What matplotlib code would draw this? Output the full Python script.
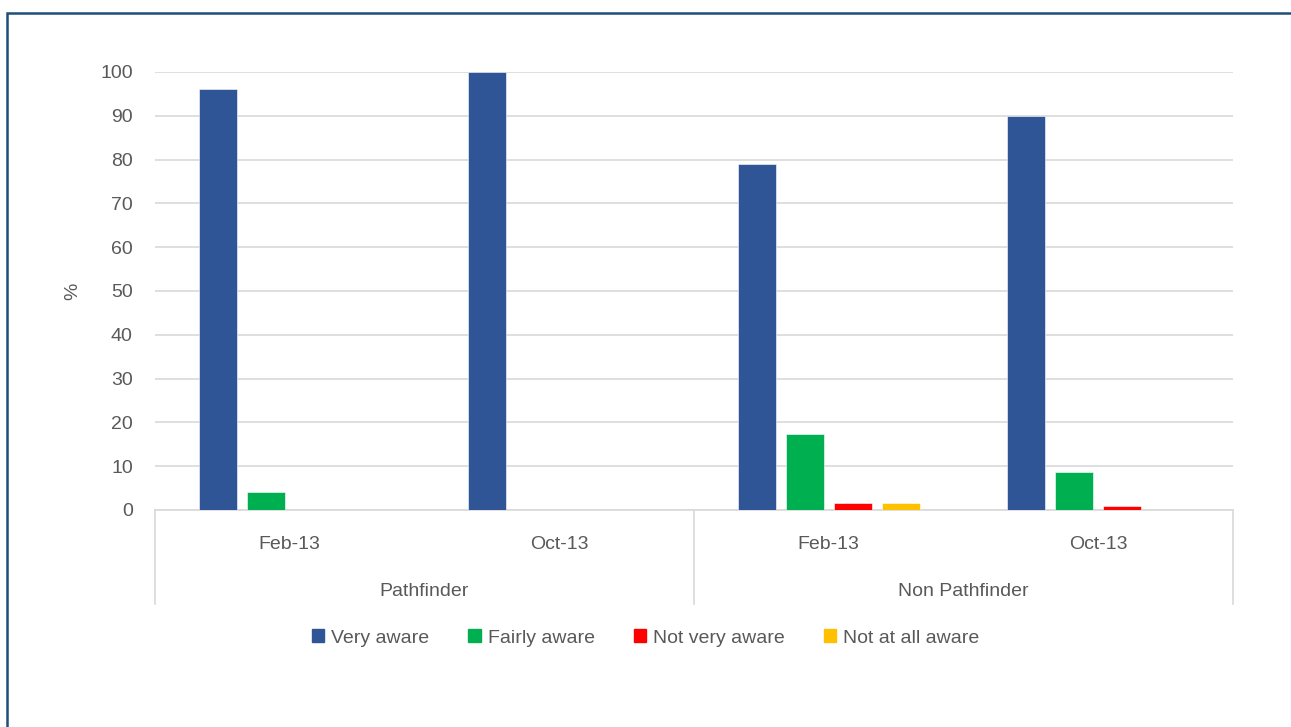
import numpy as np
import matplotlib.pyplot as plt
from matplotlib.patches import Rectangle, Patch
from matplotlib.lines import Line2D

plt.rcParams['font.family'] = ['Liberation Sans', 'DejaVu Sans']

## datos
grupos = ["Pathfinder", "Non Pathfinder"]
fechas = ["Feb-13", "Oct-13", "Feb-13", "Oct-13"]
series = ["Very aware", "Fairly aware", "Not very aware", "Not at all aware"]
colores = ["#2F5597", "#00B050", "#FF0000", "#FFC000"]
very_aware = [96, 100, 79, 90]
fairly_aware = [4.2, 0, 17.4, 8.7]
not_very_aware = [0, 0, 1.6, 0.9]
not_at_all_aware = [0, 0, 1.6, 0]
valores = [very_aware, fairly_aware, not_very_aware, not_at_all_aware]

gris = "#595959"
fs = 14

fig = plt.figure(figsize=(12.91, 7.27), dpi=100)
ax = fig.add_axes([0.1201, 0.2985, 0.8350, 0.6025])

x = np.arange(len(fechas))
slot = 48 / 270
ancho = 38 / 270
for k, (nombre, vals) in enumerate(zip(series, valores)):
    ax.bar(x + (k - 1.5) * slot, vals, width=ancho, color=colores[k],
           edgecolor="white", linewidth=0.4, label=nombre, zorder=3)

ax.set_xlim(-0.5, len(fechas) - 0.5)
ax.set_ylim(0, 100)
ax.set_yticks(range(0, 101, 10))
ax.grid(axis="y", color="#D9D9D9", linewidth=1.2, zorder=0)
for s in ["top", "right", "left"]:
    ax.spines[s].set_visible(False)
ax.spines["bottom"].set_color("#D9D9D9")
ax.spines["bottom"].set_linewidth(1.2)
ax.tick_params(axis="y", length=0, labelsize=fs, labelcolor=gris, pad=16)
ax.tick_params(axis="x", length=0, labelsize=fs, labelcolor=gris, pad=19)
ax.set_xticks(x)
ax.set_xticklabels(fechas)
ax.set_ylabel("%", fontsize=fs, color=gris, labelpad=14)

# etiquetas de grupo y separadores
trans = ax.get_xaxis_transform()
for i, g in enumerate(grupos):
    ax.text(2 * i + 0.5, -0.185, g, transform=trans, ha="center", va="center",
            fontsize=fs, color=gris)
for xs in [-0.5, 1.5, 3.5]:
    ax.add_line(Line2D([xs, xs], [0, -0.215], transform=trans, color="#D9D9D9",
                       linewidth=1.2, clip_on=False))

# leyenda
handles = [Patch(color=c, label=s) for c, s in zip(colores, series)]
fig.legend(handles=handles, loc="center", bbox_to_anchor=(0.5, 1 - 638 / 727),
           ncol=4, frameon=False, fontsize=fs, handlelength=0.65, handleheight=0.65,
           handletextpad=0.35, columnspacing=2.0, labelcolor=gris)

# marco
fig.patches.append(Rectangle((7 / 1291, -0.1), 1.2, 1 - 13 / 727 + 0.1,
                             transform=fig.transFigure, fill=False,
                             edgecolor="#1F4E79", linewidth=1.8, clip_on=False))

fig.savefig("out.png", dpi=100)
